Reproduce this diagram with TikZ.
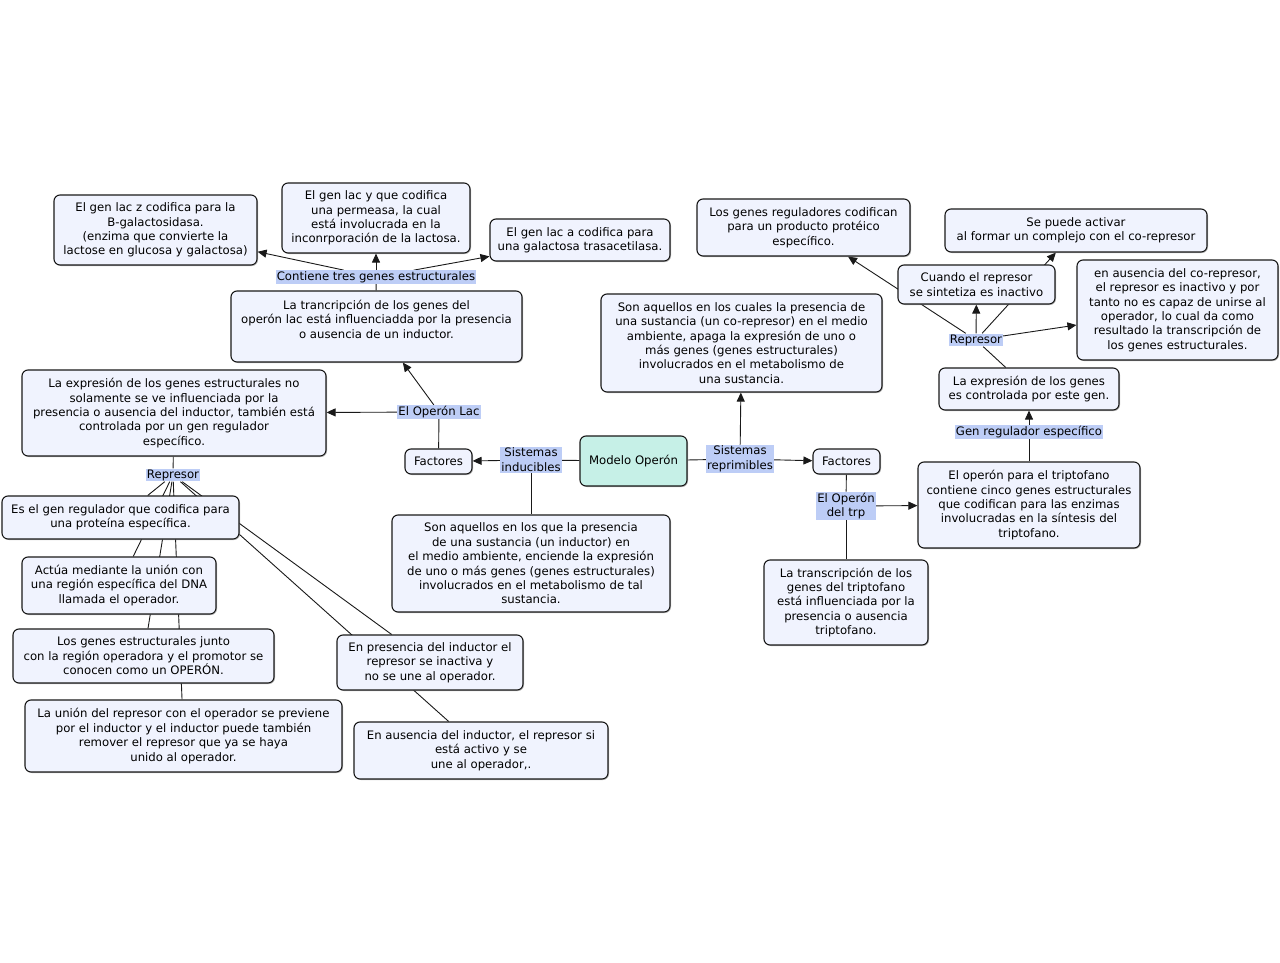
\documentclass[tikz,border=0pt]{standalone}
\usepackage{fontspec}
\setmainfont{DejaVu Sans}
\usetikzlibrary{arrows.meta, shadows, backgrounds}
\definecolor{boxfill}{RGB}{240, 243, 254}
\definecolor{linkfill}{RGB}{189, 205, 246}
\definecolor{rootfill}{RGB}{198, 240, 231}
\definecolor{edge}{RGB}{25, 25, 25}

\begin{document}
\begin{tikzpicture}[
    x=1pt, y=-1pt,
    font=\fontsize{11.7}{14.4}\selectfont,
    box/.style={rectangle, rounded corners=6pt, draw=edge, line width=1.1pt, fill=boxfill, align=center, inner sep=2pt,
      drop shadow={shadow xshift=1pt, shadow yshift=-1pt, fill=black!45, opacity=0.6}},
    root/.style={box, fill=rootfill},
    lbl/.style={rectangle, fill=linkfill, align=center, inner sep=1pt, font=\fontsize{11.7}{14.8}\selectfont},
    arrow/.style={-{Triangle[length=9pt, width=8pt]}, line width=0.9pt, draw=edge},
    line/.style={line width=0.9pt, draw=edge}
  ]
    \useasboundingbox (0,0) rectangle (1280,963);

    % root
    \node[root, minimum width=107, minimum height=50] (modelo) at (633.5,461) {Modelo Operón};

    % lac side
    \node[lbl] (sisInd) at (531,460) {Sistemas\\inducibles};
    \node[box, minimum width=67, minimum height=25] (factL) at (438.5,461.5) {Factores};
    \node[box, minimum width=278, minimum height=97] (inducSon) at (531,563.5) {Son aquellos en los que la presencia\\de una sustancia (un inductor) en\\el medio ambiente, enciende la expresión\\de uno o más genes (genes estructurales)\\involucrados en el metabolismo de tal\\sustancia.};
    \node[lbl] (opLac) at (439,412) {El Operón Lac};
    \node[box, minimum width=291, minimum height=71] (trancLac) at (376.5,326.5) {La trancripción de los genes del\\operón lac está influenciadda por la presencia\\o ausencia de un inductor.\\~};
    \node[lbl] (contiene) at (376,277) {Contiene tres genes estructurales};
    \node[box, minimum width=203, minimum height=70] (lacz) at (155.5,230) {El gen lac z codifica para la\\B-galactosidasa.\\(enzima que convierte la\\lactose en glucosa y galactosa)};
    \node[box, minimum width=188, minimum height=70] (lacy) at (376,218) {El gen lac y que codifica\\una permeasa, la cual\\está involucrada en la\\inconrporación de la lactosa.};
    \node[box, minimum width=180, minimum height=42] (laca) at (580,240) {El gen lac a codifica para\\una galactosa trasacetilasa.};
    \node[box, minimum width=304, minimum height=86] (expresLac) at (174,413) {La expresión de los genes estructurales no\\solamente se ve influenciada por la\\presencia o ausencia del inductor, también está\\controlada por un gen regulador\\específico.};
    \node[lbl] (repL) at (173,475) {Represor};
    \node[box, minimum width=237, minimum height=43] (esGen) at (120.5,517.5) {Es el gen regulador que codifica para\\una proteína específica.};
    \node[box, minimum width=194, minimum height=57] (actua) at (119,585.5) {Actúa mediante la unión con\\una región específica del DNA\\llamada el operador.};
    \node[box, minimum width=261, minimum height=54] (losGenes) at (143.5,656) {Los genes estructurales junto\\con la región operadora y el promotor se\\conocen como un OPERÓN.};
    \node[box, minimum width=317, minimum height=72] (union) at (183.5,736) {La unión del represor con el operador se previene\\por el inductor y el inductor puede también\\remover el represor que ya se haya\\unido al operador.};
    \node[box, minimum width=186, minimum height=55] (enPres) at (430,662.5) {En presencia del inductor el\\represor se inactiva y\\no se une al operador.};
    \node[box, minimum width=254, minimum height=57] (enAus) at (481,750.5) {En ausencia del inductor, el represor si\\está activo y se\\une al operador,.};

    % trp side
    \node[lbl] (sisRep) at (740,459) {Sistemas\\reprimibles};
    \node[box, minimum width=67, minimum height=25] (factR) at (846.5,461.5) {Factores};
    \node[box, minimum width=281, minimum height=98] (reprSon) at (741.5,343) {Son aquellos en los cuales la presencia de\\una sustancia (un co-represor) en el medio\\ambiente, apaga la expresión de uno o\\más genes (genes estructurales)\\involucrados en el metabolismo de\\una sustancia.};
    \node[lbl] (opTrp) at (846,506) {El Operón\\del trp};
    \node[box, minimum width=164, minimum height=85] (trancTrp) at (846,602.5) {La transcripción de los\\genes del triptofano\\está influenciada por la\\presencia o ausencia\\triptofano.};
    \node[box, minimum width=222, minimum height=86] (operonTrp) at (1029,505) {El operón para el triptofano\\contiene cinco genes estructurales\\que codifican para las enzimas\\involucradas en la síntesis del\\triptofano.};
    \node[lbl] (genReg) at (1029,432) {Gen regulador específico};
    \node[box, minimum width=180, minimum height=42] (expresTrp) at (1029,389) {La expresión de los genes\\es controlada por este gen.};
    \node[lbl] (repR) at (976,340) {Represor};
    \node[box, minimum width=157, minimum height=39] (cuando) at (976.5,284.5) {Cuando el represor\\se sintetiza es inactivo};
    \node[box, minimum width=213, minimum height=57] (genesReg) at (803.5,227.5) {Los genes reguladores codifican\\para un producto protéico\\específico.};
    \node[box, minimum width=262, minimum height=43] (sePuede) at (1076,230.5) {Se puede activar\\al formar un complejo con el co-represor};
    \node[box, minimum width=201, minimum height=100] (enAusCo) at (1177.5,310) {en ausencia del co-represor,\\el represor es inactivo y por\\tanto no es capaz de unirse al\\operador, lo cual da como\\resultado la transcripción de\\los genes estructurales.};

    \begin{scope}[on background layer]
    % lac links
    \draw[line] (modelo) -- (sisInd);
    \draw[arrow] (sisInd) -- (factL);
    \draw[line] (sisInd) -- (inducSon);
    \draw[line] (factL) -- (opLac);
    \draw[arrow] (opLac) -- (trancLac);
    \draw[arrow] (opLac) -- (expresLac);
    \draw[line] (trancLac) -- (contiene);
    \draw[arrow] (contiene) -- (lacz);
    \draw[arrow] (contiene) -- (lacy);
    \draw[arrow] (contiene) -- (laca);
    \draw[line] (expresLac) -- (repL);
    \draw[line] (repL) -- (esGen);
    \draw[line] (repL) -- (actua);
    \draw[line] (repL) -- (losGenes);
    \draw[line] (repL) -- (union);
    \draw[line] (repL) -- (enPres);
    \draw[line] (repL) -- (enAus);
    % trp links
    \draw[line] (modelo) -- (sisRep);
    \draw[arrow] (sisRep) -- (factR);
    \draw[arrow] (sisRep) -- (reprSon);
    \draw[line] (factR) -- (opTrp);
    \draw[arrow] (opTrp) -- (operonTrp);
    \draw[line] (opTrp) -- (trancTrp);
    \draw[line] (operonTrp) -- (genReg);
    \draw[arrow] (genReg) -- (expresTrp);
    \draw[line] (expresTrp) -- (repR);
    \draw[arrow] (repR) -- (cuando);
    \draw[arrow] (repR) -- (genesReg);
    \draw[arrow] (repR) -- (sePuede);
    \draw[arrow] (repR) -- (enAusCo);
    \end{scope}
\end{tikzpicture}
\end{document}
